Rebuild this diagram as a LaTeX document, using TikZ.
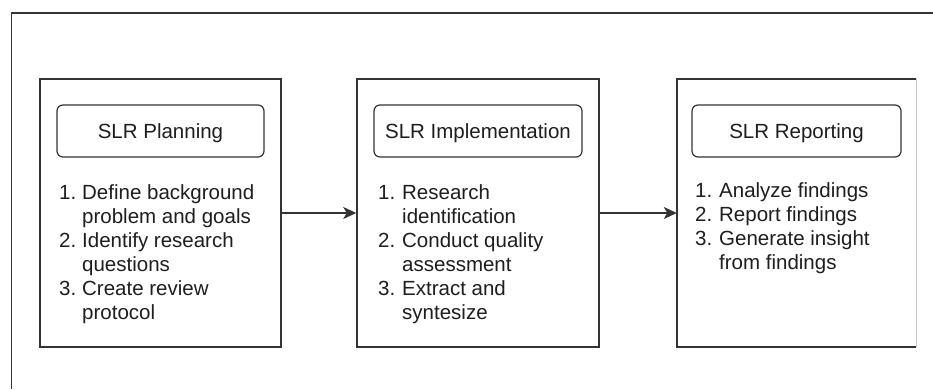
\documentclass[tikz,border=0pt]{standalone}
\usepackage{fontspec}
\setmainfont{Liberation Sans}
\usetikzlibrary{arrows.meta}
\definecolor{ink}{HTML}{1E1E1E}
\definecolor{edge}{HTML}{333333}
\definecolor{faint}{HTML}{C8C8C8}
\begin{document}
\begin{tikzpicture}[x=1pt,y=-1pt,
  every node/.style={font=\fontsize{20.5}{24}\selectfont, text=ink},
  phase/.style={rectangle, inner sep=0pt, minimum height=268pt},
  title/.style={draw=edge, line width=1.2pt, rounded corners=6pt, inner sep=0pt,
    minimum width=207pt, minimum height=52pt, text height=14.7pt, text depth=0pt},
  steps/.style={anchor=base west, inner sep=0pt, align=left},
  flow/.style={draw=edge, line width=1.3pt, -{Stealth[length=13pt,width=12pt,inset=3.5pt]}}]
\useasboundingbox (0,0) rectangle (933,389);
\fill[white] (0,0) rectangle (933,389);
% outer frame (open towards the bottom and right)
\coordinate (fbl) at (11.5,389);
\coordinate (ftl) at (11.5,12.7);
\coordinate (ftr) at (933,12.7);
\draw[edge, line width=1.8pt] (fbl) -- (ftl) -- (ftr);

% phase boxes
\node[phase, draw=edge, line width=1.5pt, minimum width=241pt] (p1) at (160.5,213) {};
\node[phase, draw=edge, line width=1.5pt, minimum width=242pt] (p2) at (478,213) {};
\node[phase, minimum width=239pt] (p3) at (796.5,213) {};
\draw[edge, line width=1.5pt] (p3.north east) -- (p3.north west) -- (p3.south west) -- (p3.south east);
\draw[faint, line width=1.2pt] (p3.north east) -- (p3.south east);

% phase titles
\node[title] (t1) at (160.5,131) {SLR Planning};
\node[title, minimum width=208pt] (t2) at (478,131) {SLR Implementation};
\node[title, minimum width=209pt] (t3) at (796.5,131) {SLR Reporting};

% step lists
\node[steps] (l1) at (59,199) {\begin{tabular}[t]{@{}p{23pt}@{}l@{}}
1. & Define background\\
   & problem and goals\\
2. & Identify research\\
   & questions\\
3. & Create review\\
   & protocol
\end{tabular}};
\node[steps] (l2) at (378,199) {\begin{tabular}[t]{@{}p{24pt}@{}l@{}}
1. & Research\\
   & identification\\
2. & Conduct quality\\
   & assessment\\
3. & Extract and\\
   & syntesize
\end{tabular}};
\node[steps] (l3) at (695,197) {\begin{tabular}[t]{@{}p{24pt}@{}l@{}}
1. & Analyze findings\\
2. & Report findings\\
3. & Generate insight\\
   & from findings
\end{tabular}};

% flow between phases
\draw[flow] (p1.east) -- (p2.west);
\draw[flow] (p2.east) -- (p3.west);
\end{tikzpicture}
\end{document}
